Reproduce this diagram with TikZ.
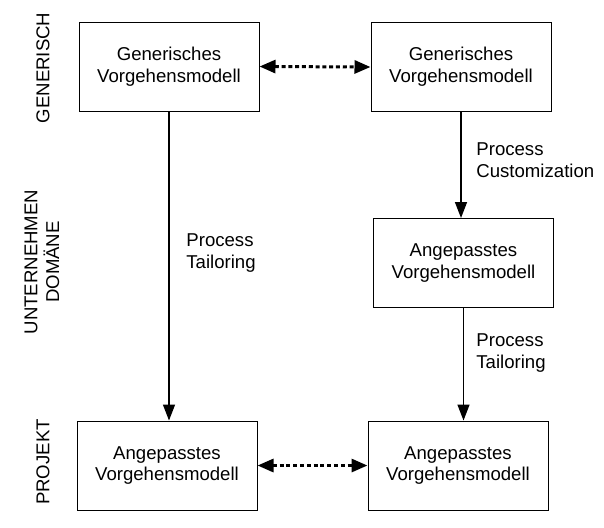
\documentclass[tikz,border=0pt]{standalone}
\usepackage{fontspec}
\setmainfont{Liberation Sans}
\usetikzlibrary{arrows.meta,positioning}

\tikzset{
	box/.style={shape=rectangle, draw, line width=0.5pt, minimum width=90pt, minimum height=44.5pt, align=center, inner sep=0pt},
	lab/.style={align=left, anchor=west, inner sep=0pt},
	lvl/.style={rotate=90, align=center, inner sep=0pt},
	flow/.style={-{Triangle[length=8pt,width=6pt]}, line width=0.75pt},
	link/.style={{Triangle[length=8pt,width=6.5pt]}-{Triangle[length=8pt,width=6.5pt]}, line width=1.5pt, dash pattern=on 2pt off 1.4pt}
}

\begin{document}
\begin{tikzpicture}[x=0.5pt,y=-0.5pt,every node/.style={font=\fontsize{9.3}{10.9}\selectfont}]
	\useasboundingbox (0,0) rectangle (604,527);
	\path (169,66.5) node (1) [box] {Generisches\\Vorgehensmodell}
		  (461,67) node (2) [box] {Generisches\\Vorgehensmodell}
		  (463.5,263) node (3) [box] {Angepasstes\\Vorgehensmodell}
		  (167,465.5) node (4) [box] {Angepasstes\\Vorgehensmodell}
		  (458,465.5) node (5) [box] {Angepasstes\\Vorgehensmodell};
	\path (43,68) node (g) [lvl] {GENERISCH}
		  (42,262) node (u) [lvl] {UNTERNEHMEN\\DOMÄNE}
		  (43,462) node (p) [lvl] {PROJEKT};
	\path (186,253) node (t1) [lab] {Process\\Tailoring}
		  (476,160) node (c) [lab] {Process\\Customization}
		  (476,353) node (t2) [lab] {Process\\Tailoring};
	\draw[flow] (1.south) -- (1.south |- 4.north);
	\draw[flow] (2.south) -- (2.south |- 3.north);
	\draw[flow] (3.south) -- (3.south |- 5.north);
	\draw[link] (1.east) -- (2.west);
	\draw[link] (4.east) -- (5.west);
\end{tikzpicture}
\end{document}
